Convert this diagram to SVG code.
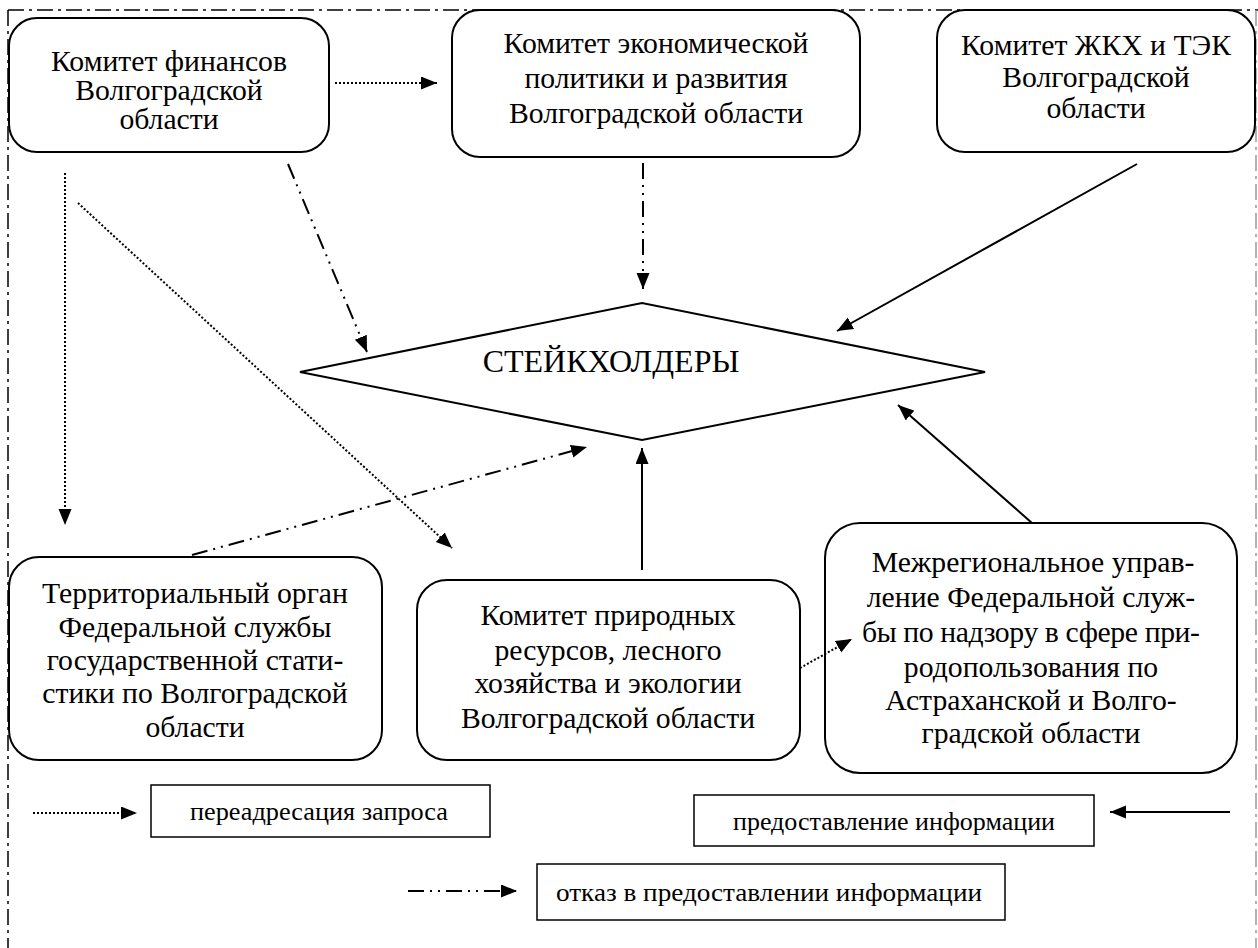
<svg xmlns="http://www.w3.org/2000/svg" width="1258" height="948" viewBox="0 0 1258 948" font-family="'Liberation Serif', serif">
<style>
.box{fill:#fff;stroke:#000;stroke-width:2}
.lg{fill:#fff;stroke:#000;stroke-width:1.5}
text{font-family:'Liberation Serif',serif;fill:#000;text-anchor:middle}
.t{font-size:29.7px}
.tl{font-size:26px}
.c{fill:none;stroke:#000;stroke-width:2}
.dot{stroke-dasharray:2 2}
.dd{stroke-dasharray:16 6 2 6 2 6}
</style>
<defs>
<marker id="ah" markerUnits="userSpaceOnUse" markerWidth="18" markerHeight="14" refX="16" refY="6.5" orient="auto">
<path d="M0,0 L16,6.5 L0,13 z" fill="#000"/>
</marker>
</defs>
<rect width="1258" height="948" fill="#fff"/>
<g id="frame" fill="none" stroke-width="1.5" stroke-dasharray="16 5 3 5">
<path d="M8,10 L1258,10" stroke="#000"/>
<path d="M8,10 L8,948" stroke="#000"/>
<path d="M1256,10 L1256,948" stroke="#999"/>
</g>
<g id="n1"><rect class="box" x="9" y="18" width="320" height="134" rx="28"/>
<text class="t" x="169" y="71">Комитет финансов</text><text class="t" x="169" y="100">Волгоградской</text><text class="t" x="169" y="129">области</text></g>
<g id="n2"><rect class="box" x="452" y="10" width="408" height="147" rx="28"/>
<text class="t" x="656" y="53">Комитет экономической</text><text class="t" x="656" y="88">политики и развития</text><text class="t" x="656" y="123">Волгоградской области</text></g>
<g id="n3"><rect class="box" x="937" y="10" width="318" height="142" rx="28"/>
<text class="t" x="1096" y="55">Комитет ЖКХ и ТЭК</text><text class="t" x="1096" y="87">Волгоградской</text><text class="t" x="1096" y="118">области</text></g>
<g id="n4"><path class="box" d="M300,372 L642,303 L985,372 L642,440 Z"/>
<text x="611" y="372" font-size="32">СТЕЙКХОЛДЕРЫ</text></g>
<g id="n5"><rect class="box" x="9" y="557" width="373" height="203" rx="30"/>
<text class="t" x="195" y="603">Территориальный орган</text><text class="t" x="195" y="637">Федеральной службы</text><text class="t" x="195" y="670">государственной стати-</text><text class="t" x="195" y="703">стики по Волгоградской</text><text class="t" x="195" y="737">области</text></g>
<g id="n6"><rect class="box" x="417" y="580" width="383" height="180" rx="30"/>
<text class="t" x="608" y="625">Комитет природных</text><text class="t" x="608" y="660">ресурсов, лесного</text><text class="t" x="608" y="693">хозяйства и экологии</text><text class="t" x="608" y="728">Волгоградской области</text></g>
<g id="n7"><rect class="box" x="825" y="523" width="412" height="250" rx="35"/>
<text class="t" x="1033" y="572">Межрегиональное управ-</text><text class="t" x="1031" y="607">ление Федеральной служ-</text><text class="t" x="1031" y="642" textLength="338" lengthAdjust="spacing">бы по надзору в сфере при-</text><text class="t" x="1031" y="677">родопользования по</text><text class="t" x="1031" y="710">Астраханской и Волго-</text><text class="t" x="1031" y="743">градской области</text></g>
<g id="connectors">
<path class="c dot" d="M335,83 L437,83" marker-end="url(#ah)"/>
<path class="c dot" d="M65,173 L65,525" marker-end="url(#ah)"/>
<path class="c dot" d="M78,203 L452,548" marker-end="url(#ah)"/>
<path class="c dd" d="M288,164 L367,352" marker-end="url(#ah)"/>
<path class="c dd" d="M643,163 L643,289" marker-end="url(#ah)"/>
<path class="c" d="M1137,164 L837,331" marker-end="url(#ah)"/>
<path class="c" d="M1032,523 L898,405" marker-end="url(#ah)"/>
<path class="c" d="M642,570 L642,448" marker-end="url(#ah)"/>
<path class="c dd" d="M192,555 L587,447" marker-end="url(#ah)"/>
<path class="c dot" d="M800,668 L852,639" marker-end="url(#ah)"/>
</g>
<g id="legend">
<path class="c dot" d="M33,813 L137,813" marker-end="url(#ah)"/>
<rect class="lg" x="151" y="785" width="339" height="52"/>
<text class="tl" x="319" y="820" textLength="258" lengthAdjust="spacingAndGlyphs">переадресация запроса</text>
<path class="c" d="M1230,812 L1110,812" marker-end="url(#ah)"/>
<rect class="lg" x="694" y="795" width="400" height="51"/>
<text class="tl" x="894" y="830" textLength="322" lengthAdjust="spacingAndGlyphs">предоставление информации</text>
<path class="c dd" d="M408,891 L517,891" marker-end="url(#ah)"/>
<rect class="lg" x="537" y="864" width="468" height="56"/>
<text class="tl" x="769" y="901" textLength="426" lengthAdjust="spacingAndGlyphs">отказ в предоставлении информации</text>
</g>
</svg>
